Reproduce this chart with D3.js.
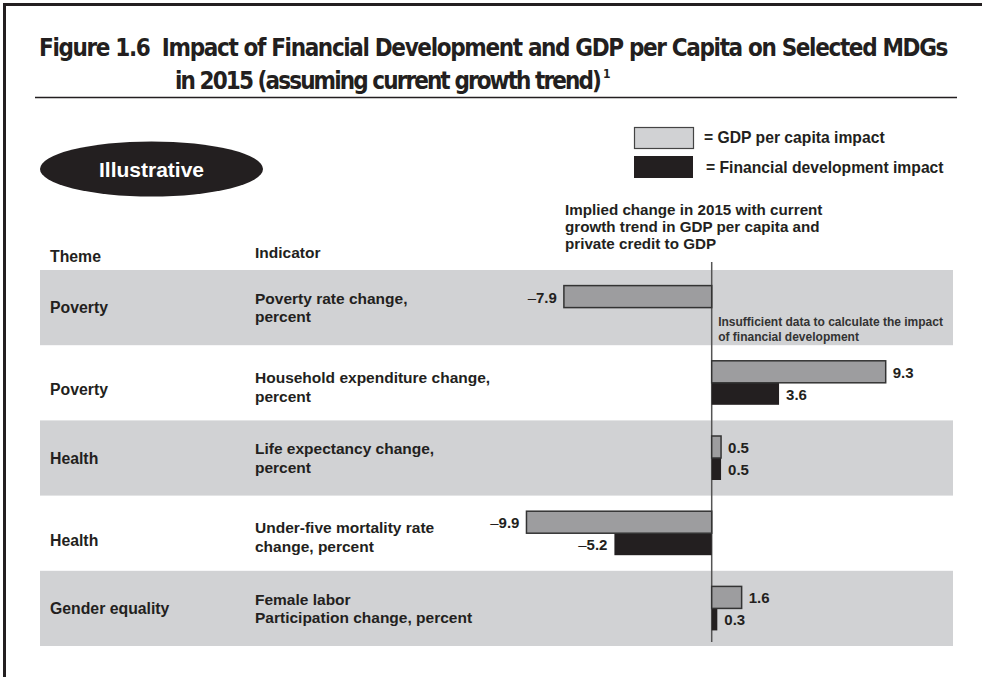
<!DOCTYPE html>
<html>
<head>
<meta charset="utf-8">
<script src="https://cdn.jsdelivr.net/npm/d3@7"></script>
<style>
  html, body { margin: 0; padding: 0; background: #fff; }
  svg { display: block; }
  text { font-family: "Liberation Sans", Arial, Helvetica, sans-serif; fill: #231f20; }
</style>
</head>
<body>
<svg id="chart" width="987" height="677"></svg>
<script>
// ---------------- DATA ----------------
const titleLine1 = "Figure 1.6\u00a0\u00a0Impact of Financial Development and GDP per Capita on Selected MDGs";
const titleLine2 = "in 2015 (assuming current growth trend)";
const titleNote = "1";
const badgeLabel = "Illustrative";
const headerLabels = ["Theme", "Indicator"];
const themes = ["Poverty", "Poverty", "Health", "Health", "Gender equality"];
const indicators = [
  ["Poverty rate change,", "percent"],
  ["Household expenditure change,", "percent"],
  ["Life expectancy change,", "percent"],
  ["Under-five mortality rate", "change, percent"],
  ["Female labor", "Participation change, percent"]
];
const gdpImpact = [-7.9, 9.3, 0.5, -9.9, 1.6];
const finImpact = [null, 3.6, 0.5, -5.2, 0.3];
const seriesNames = ["= GDP per capita impact", "= Financial development impact"];
const axisNote = ["Implied change in 2015 with current", "growth trend in GDP per capita and", "private credit to GDP"];
const missingNote = ["Insufficient data to calculate the impact", "of financial development"];
const valueDomain = [-10, 10];

// ---------------- LAYOUT ----------------
const W = 987, H = 677;
const ink = "#231f20";
const bandGrey = "#d1d2d4";
const barGrey = "#9d9d9f";
const svg = d3.select("#chart");

svg.append("rect").attr("width", W).attr("height", H).attr("fill", "#fff");

// frame (top + left)
svg.append("path")
  .attr("d", "M4.5,677 L4.5,4.5 L982,4.5")
  .attr("fill", "none").attr("stroke", ink).attr("stroke-width", 3);

// title (fit widths with letter-spacing)
const titleFont = "'Liberation Sans Narrow','DejaVu Sans Condensed','Roboto Condensed','Open Sans',sans-serif";
function fitTitle(txt, x0, y0, target) {
  const t = svg.append("text").attr("x", x0).attr("y", y0)
    .style("font-family", titleFont).style("font-stretch", "condensed")
    .attr("font-size", 24).attr("font-weight", 600).text(txt);
  const L = t.node().getComputedTextLength();
  const ls = (target - L) / txt.length;
  t.attr("letter-spacing", ls);
  return t;
}
fitTitle(titleLine1, 39, 56, 908);
fitTitle(titleLine2, 175, 89, 425);
svg.append("text").attr("x", 603).attr("y", 78)
  .style("font-family", titleFont).attr("font-size", 12).attr("font-weight", 600).text(titleNote);

svg.append("line").attr("x1", 35).attr("x2", 957).attr("y1", 97.5).attr("y2", 97.5)
  .attr("stroke", ink).attr("stroke-width", 1.5);

// badge
svg.append("ellipse").attr("cx", 151.5).attr("cy", 169).attr("rx", 111.5).attr("ry", 27.5).attr("fill", ink);
svg.append("text").attr("x", 151.5).attr("y", 177).attr("text-anchor", "middle")
  .attr("font-size", 21).attr("font-weight", "bold").style("fill", "#fff").text(badgeLabel);

// legend
const legendFills = [bandGrey, ink];
const legendY = [127, 156], legendH = [21, 22];
seriesNames.forEach((name, i) => {
  svg.append("rect").attr("x", i === 0 ? 634.5 : 634).attr("y", legendY[i] + (i === 0 ? 0.5 : 0))
    .attr("width", 59).attr("height", legendH[i])
    .attr("fill", legendFills[i]).attr("stroke", i === 0 ? "#444" : "none").attr("stroke-width", 1.2);
  svg.append("text").attr("x", i === 0 ? 704 : 706).attr("y", legendY[i] + legendH[i] / 2 + 5.5)
    .attr("font-size", 15.7).attr("font-weight", "bold").text(name);
});

// axis note
svg.append("text").attr("font-size", 15.2).attr("font-weight", "bold")
  .selectAll("tspan").data(axisNote).join("tspan")
  .attr("x", 565).attr("y", (d, i) => 215 + i * 16.8).text(d => d);

// headers
svg.append("text").attr("x", 50).attr("y", 262).attr("font-size", 15.8).attr("font-weight", "bold").text(headerLabels[0]);
svg.append("text").attr("x", 255).attr("y", 258).attr("font-size", 15.5).attr("font-weight", "bold").text(headerLabels[1]);

// scales
const rows = d3.range(themes.length);
const y = d3.scaleBand().domain(rows).range([270, 646]).paddingInner(0).paddingOuter(0);
const x = d3.scaleLinear().domain(valueDomain).range([524.6, 898.8]);
const barH = 22;

// row bands
svg.append("g").selectAll("rect").data(rows.filter(i => i % 2 === 0)).join("rect")
  .attr("x", 40).attr("width", 913).attr("y", d => y(d)).attr("height", y.bandwidth())
  .attr("fill", bandGrey);

// row texts
const rowG = svg.append("g");
rows.forEach(i => {
  const cy = y(i) + y.bandwidth() / 2;
  const white = i % 2 === 1;
  rowG.append("text").attr("x", 50).attr("y", cy + (white ? 7 : 0) + 5.5)
    .attr("font-size", 15.8).attr("font-weight", "bold").text(themes[i]);
  const tt = rowG.append("text").attr("font-size", 15.5).attr("font-weight", "bold");
  indicators[i].forEach((line, j) => {
    tt.append("tspan").attr("x", 255).attr("y", cy + (white ? 4 : 0) - 9.25 + j * 18.5 + 5.5).text(line);
  });
});

// zero line
svg.append("line").attr("x1", x(0)).attr("x2", x(0)).attr("y1", 262).attr("y2", 642)
  .attr("stroke", "#555").attr("stroke-width", 1.5);

// bars
const fmt = v => Math.abs(v).toFixed(1);
function drawSeries(values, offset, fill, stroke) {
  const g = svg.append("g");
  const data = rows.filter(i => values[i] !== null).map(i => ({ i, v: values[i] }));
  g.selectAll("rect").data(data).join("rect")
    .attr("x", d => Math.min(x(0), x(d.v)))
    .attr("width", d => Math.abs(x(d.v) - x(0)))
    .attr("y", d => y(d.i) + y.bandwidth() / 2 + offset)
    .attr("height", barH)
    .attr("fill", fill)
    .attr("stroke", stroke).attr("stroke-width", stroke === "none" ? 0 : 1.5);
  const lab = g.selectAll("text").data(data).join("text")
    .attr("x", d => d.v < 0 ? x(d.v) - 7 : x(d.v) + 7)
    .attr("y", d => y(d.i) + y.bandwidth() / 2 + offset + barH / 2 + 6)
    .attr("text-anchor", d => d.v < 0 ? "end" : "start")
    .attr("font-size", 15).attr("font-weight", "bold");
  lab.each(function (d) {
    const s = d3.select(this);
    if (d.v < 0) s.append("tspan").attr("font-weight", "normal").text("\u2013");
    s.append("tspan").text(fmt(d.v));
  });
}
drawSeries(finImpact, 0, ink, "none");
drawSeries(gdpImpact, -barH, barGrey, "#333");

// missing-data note
svg.append("text").attr("font-size", 12).attr("font-weight", "bold").style("fill", "#333")
  .selectAll("tspan").data(missingNote).join("tspan")
  .attr("x", x(0) + 6.5).attr("y", (d, i) => y(0) + 56 + i * 14.5).text(d => d);
</script>
</body>
</html>
